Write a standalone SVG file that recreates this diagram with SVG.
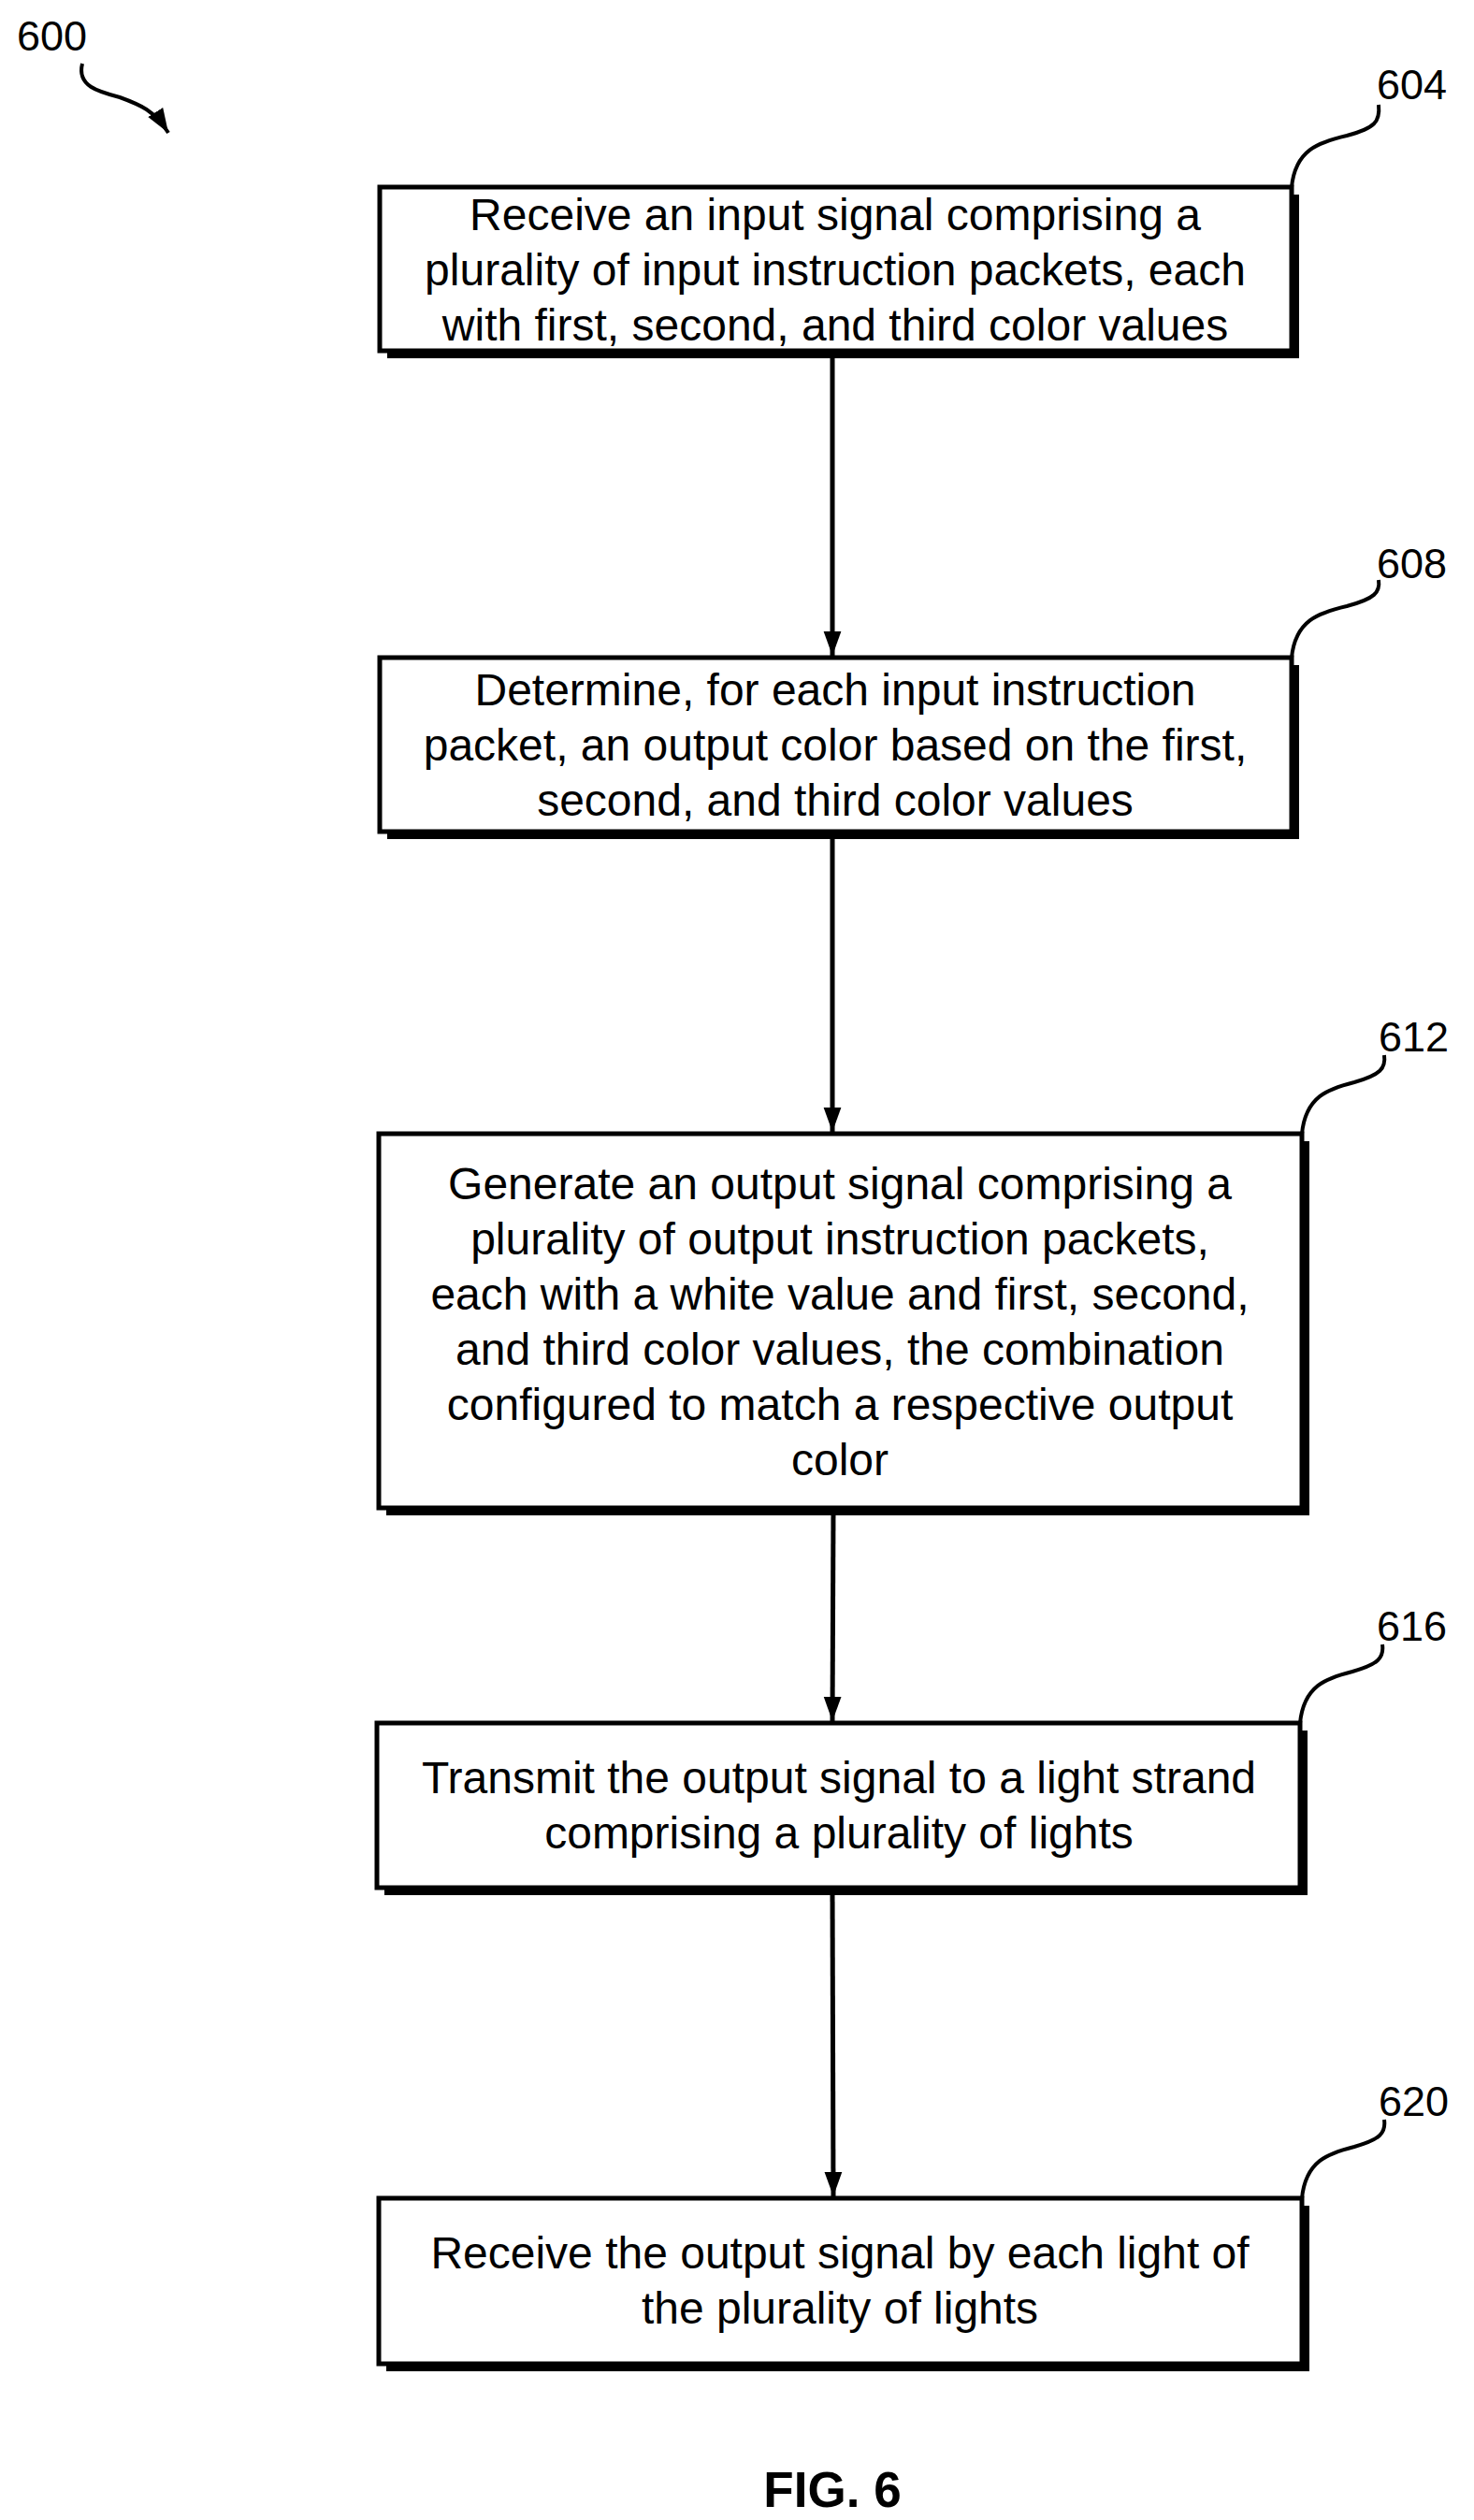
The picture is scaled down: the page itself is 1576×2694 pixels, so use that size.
<svg xmlns="http://www.w3.org/2000/svg" width="1576" height="2694" viewBox="0 0 1576 2694">
<style>
text{font-family:"Liberation Sans",Arial,sans-serif;fill:#000}
.t{font-size:48px;text-anchor:middle}
.l{font-size:45px}
.box{fill:#fff;stroke:#000;stroke-width:5}
.sh{fill:#000}
.c{fill:none;stroke:#000;stroke-width:5}
.ld{fill:none;stroke:#000;stroke-width:4}
</style>
<defs>
<marker id="ah2" markerWidth="26" markerHeight="36" refX="36" refY="13" orient="auto" markerUnits="userSpaceOnUse" viewBox="0 0 36 26"><path d="M0,0 L36,13 L0,26 z"/></marker>
</defs>
<g id="label600">
<text class="l" x="18" y="54">600</text>
<path class="ld" d="M88,68 C82,92 105,98 128,104 C150,112 165,118 180,142" marker-end="url(#ah2)"/>
</g>
<g id="connectors">
<line class="c" x1="890" y1="377" x2="890" y2="701" marker-end="url(#ah2)"/>
<line class="c" x1="890" y1="891" x2="890" y2="1210" marker-end="url(#ah2)"/>
<line class="c" x1="891" y1="1616" x2="890" y2="1840" marker-end="url(#ah2)"/>
<line class="c" x1="890" y1="2020" x2="891" y2="2348" marker-end="url(#ah2)"/>
</g>
<g id="n604">
<rect class="sh" x="414" y="208" width="975" height="175"/>
<rect class="box" x="406" y="200" width="975" height="175"/>
<text class="t" x="893" y="246">Receive an input signal comprising a</text>
<text class="t" x="893" y="305">plurality of input instruction packets, each</text>
<text class="t" x="893" y="364">with first, second, and third color values</text>
<path class="ld" d="M1381,200 C1385,160 1410,152 1440,145 C1470,137 1476,130 1474,112"/>
<text class="l" x="1472" y="106">604</text>
</g>
<g id="n608">
<rect class="sh" x="414" y="711" width="975" height="186"/>
<rect class="box" x="406" y="703" width="975" height="186"/>
<text class="t" x="893" y="754">Determine, for each input instruction</text>
<text class="t" x="893" y="813">packet, an output color based on the first,</text>
<text class="t" x="893" y="872">second, and third color values</text>
<path class="ld" d="M1381,703 C1385,663 1410,655 1440,648 C1470,640 1476,633 1474,620"/>
<text class="l" x="1472" y="618">608</text>
</g>
<g id="n612">
<rect class="sh" x="413" y="1220" width="987" height="400"/>
<rect class="box" x="405" y="1212" width="987" height="400"/>
<text class="t" x="898" y="1282">Generate an output signal comprising a</text>
<text class="t" x="898" y="1341">plurality of output instruction packets,</text>
<text class="t" x="898" y="1400">each with a white value and first, second,</text>
<text class="t" x="898" y="1459">and third color values, the combination</text>
<text class="t" x="898" y="1518">configured to match a respective output</text>
<text class="t" x="898" y="1577">color</text>
<path class="ld" d="M1392,1212 C1396,1172 1420,1164 1448,1157 C1476,1149 1482,1142 1480,1128"/>
<text class="l" x="1474" y="1124">612</text>
</g>
<g id="n616">
<rect class="sh" x="411" y="1850" width="987" height="176"/>
<rect class="box" x="403" y="1842" width="987" height="176"/>
<text class="t" x="897" y="1917">Transmit the output signal to a light strand</text>
<text class="t" x="897" y="1976">comprising a plurality of lights</text>
<path class="ld" d="M1390,1842 C1394,1802 1418,1794 1446,1787 C1474,1779 1480,1772 1478,1758"/>
<text class="l" x="1472" y="1754">616</text>
</g>
<g id="n620">
<rect class="sh" x="413" y="2358" width="987" height="177"/>
<rect class="box" x="405" y="2350" width="987" height="177"/>
<text class="t" x="898" y="2425">Receive the output signal by each light of</text>
<text class="t" x="898" y="2484">the plurality of lights</text>
<path class="ld" d="M1392,2350 C1396,2310 1420,2302 1448,2295 C1476,2287 1482,2280 1480,2266"/>
<text class="l" x="1474" y="2262">620</text>
</g>
<text x="890" y="2680" style="font-size:53px;font-weight:bold;text-anchor:middle">FIG. 6</text>
</svg>
